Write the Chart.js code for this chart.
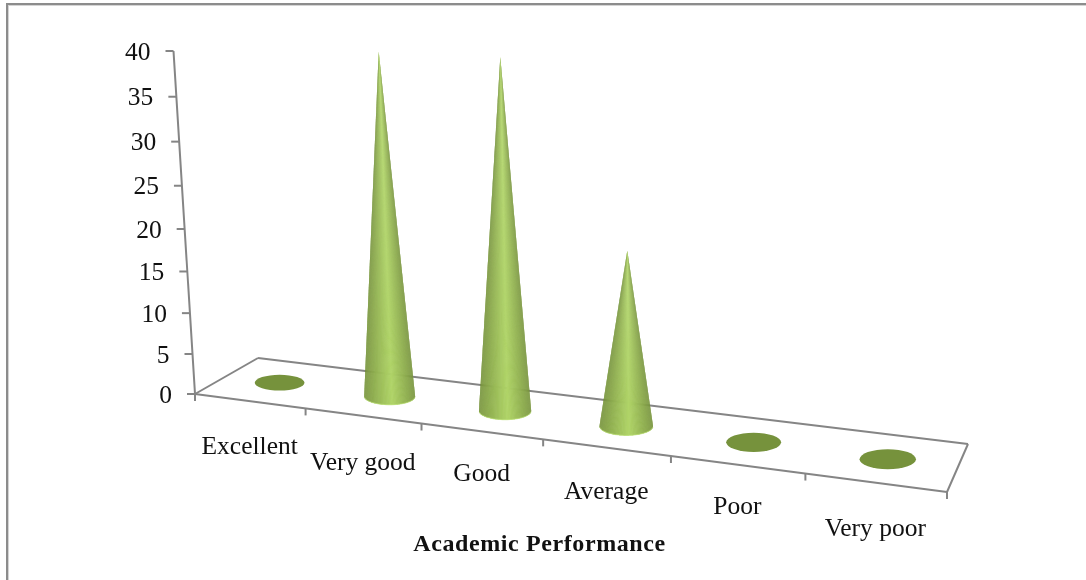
<!DOCTYPE html>
<html>
<head>
<meta charset="utf-8">
<title>Academic Performance</title>
<script src="https://cdn.jsdelivr.net/npm/chart.js@4"></script>
<style>
    html, body { margin: 0; padding: 0; background: #fff; overflow: hidden; }
    #wrap { position: absolute; left: 0; top: 0; width: 1086px; height: 580px; }
    #frame { position: absolute; left: 6px; top: 3px; right: 0; bottom: 0; border-left: 2px solid #8c8c8c; border-top: 2px solid #8c8c8c; box-shadow: inset 1px 1px 0 #d4d4d4; }
    canvas { position: absolute; left: 0; top: 0; }
</style>
</head>
<body>
<div id="wrap">
    <canvas id="coneChart" width="1086" height="580"></canvas>
    <div id="frame"></div>
</div>
<script>
var categories = ['Excellent', 'Very good', 'Good', 'Average', 'Poor', 'Very poor'];
var performance = [0, 38, 37.5, 18.5, 0, 0];
var axisTitle = 'Academic Performance';
var yMax = 40;
var yStep = 5;

// the floor as Excel left it: corners in page pixels
var FRONT_L = { x: 195, y: 394 };
var FRONT_R = { x: 947, y: 492 };
var BACK_L = { x: 258, y: 358 };
var BACK_R = { x: 968, y: 444 };
var PERSPECTIVE = 1.16;
var LABEL_DROP = [46, 47, 43, 45, 43, 47];

var AXIS_COLOR = '#858585';
var FLAT_COLOR = '#76923c';
var FONT_FAMILY = '"Liberation Serif", "Times New Roman", serif';

function lerp(a, b, f) { return a + (b - a) * f; }

function alongAxis(area, px) {
    var t = (px - area.left) / (area.right - area.left);
    return t / (t + PERSPECTIVE * (1 - t));
}

// scale pixel -> page pixel on the skewed floor, raised by the value height
function project(area, px, py, depth) {
    var u = alongAxis(area, px);
    var x = lerp(lerp(FRONT_L.x, FRONT_R.x, u), lerp(BACK_L.x, BACK_R.x, u), depth);
    var y = lerp(lerp(FRONT_L.y, FRONT_R.y, u), lerp(BACK_L.y, BACK_R.y, u), depth);
    var full = area.bottom - area.top;
    var h = (area.bottom - py) / full;
    var rise = full * (0.924 * h + 0.076 * h * h) * (1 + 0.28 * u);
    return { x: x + (x - 590) / 6300 * rise, y: y - rise };
}

function line(ctx, a, b) {
    ctx.beginPath();
    ctx.moveTo(a.x, a.y);
    ctx.lineTo(b.x, b.y);
    ctx.stroke();
}

function coneColor(p) {
    // p runs 0..1 left to right over the base
    var dark = [118, 146, 60];
    var light = [176, 212, 104];
    var f = p < 0.55 ? p / 0.55 : (1 - p) / 0.45;
    f = Math.pow(f, 0.8);
    return 'rgb(' + Math.round(lerp(dark[0], light[0], f)) + ',' +
        Math.round(lerp(dark[1], light[1], f)) + ',' +
        Math.round(lerp(dark[2], light[2], f)) + ')';
}

function drawCone(ctx, base, apex, rx, ry) {
    var steps = 140;
    var start = -0.05;
    var end = Math.PI + 0.05;
    for (var i = 0; i < steps; i++) {
        var a = lerp(start, end, i / steps);
        var b = lerp(start, end, Math.min(1, (i + 2) / steps));
        // cos runs right to left with the angle, so flip it
        ctx.fillStyle = coneColor((1 + Math.cos(lerp(a, b, 0.25))) / 2);
        ctx.beginPath();
        ctx.moveTo(apex.x, apex.y);
        ctx.lineTo(base.x + rx * Math.cos(a), base.y + ry * Math.sin(a));
        ctx.lineTo(base.x + rx * Math.cos((a + b) / 2), base.y + ry * Math.sin((a + b) / 2));
        ctx.lineTo(base.x + rx * Math.cos(b), base.y + ry * Math.sin(b));
        ctx.closePath();
        ctx.fill();
    }
    ctx.strokeStyle = 'rgba(190, 226, 120, 0.7)';
    ctx.lineWidth = 1;
    ctx.beginPath();
    ctx.ellipse(base.x, base.y, rx, ry, 0, 0.1, Math.PI - 0.1);
    ctx.stroke();
}

var skewedAxes = {
    id: 'skewedAxes',
    beforeDatasetsDraw: function (chart) {
        var ctx = chart.ctx;
        var area = chart.chartArea;
        var xScale = chart.scales.x;
        var yScale = chart.scales.y;
        ctx.save();
        ctx.strokeStyle = AXIS_COLOR;
        ctx.lineWidth = 2;

        // floor outline
        var zero = yScale.getPixelForValue(0);
        var fl = project(area, area.left, zero, 0);
        var fr = project(area, area.right, zero, 0);
        var bl = project(area, area.left, zero, 1);
        var br = project(area, area.right, zero, 1);
        line(ctx, fl, fr);
        line(ctx, fl, bl);
        line(ctx, bl, br);
        line(ctx, br, fr);

        // value axis, leaning with the view
        var top = project(area, area.left, yScale.getPixelForValue(yMax), 0);
        line(ctx, fl, top);

        ctx.fillStyle = '#111';
        ctx.font = '25.5px ' + FONT_FAMILY;
        ctx.textAlign = 'right';
        ctx.textBaseline = 'middle';
        yScale.ticks.forEach(function (tick) {
            var p = project(area, area.left, yScale.getPixelForValue(tick.value), 0);
            line(ctx, { x: p.x - 8, y: p.y }, p);
            ctx.fillText(String(tick.value), p.x - 23, p.y + 2);
        });

        // category ticks along the front edge
        var w = (area.right - area.left) / categories.length;
        for (var i = 0; i <= categories.length; i++) {
            var q = project(area, area.left + w * i, zero, 0);
            line(ctx, q, { x: q.x, y: q.y + 7 });
        }

        ctx.textAlign = 'center';
        categories.forEach(function (name, i) {
            var c = project(area, xScale.getPixelForValue(i), zero, 0);
            ctx.fillText(name, c.x, c.y + LABEL_DROP[i]);
        });

        ctx.font = 'bold 24px ' + FONT_FAMILY;
        ctx.letterSpacing = '0.6px';
        ctx.textBaseline = 'alphabetic';
        ctx.fillText(axisTitle, 539.5, 551);
        ctx.restore();
    },
    afterDatasetsDraw: function (chart) {
        var ctx = chart.ctx;
        var area = chart.chartArea;
        var meta = chart.getDatasetMeta(0);
        ctx.save();
        meta.data.forEach(function (bar) {
            var base = project(area, bar.x, bar.base, 0.5);
            var u = alongAxis(area, bar.x);
            var rx = bar.width / 2 * (0.98 + 0.16 * u);
            var ry = 7.7 + 2.6 * u;
            if (bar.y >= bar.base) {
                ctx.fillStyle = FLAT_COLOR;
                ctx.beginPath();
                ctx.ellipse(base.x, base.y, rx, ry, 0, 0, Math.PI * 2);
                ctx.fill();
            } else {
                drawCone(ctx, base, project(area, bar.x, bar.y, 0.5), rx, ry);
            }
        });
        ctx.restore();
    }
};

var coneChart = new Chart(document.getElementById('coneChart').getContext('2d'), {
    type: 'bar',
    data: {
        labels: categories,
        datasets: [{
            label: axisTitle,
            data: performance,
            backgroundColor: 'rgba(0,0,0,0)',
            borderWidth: 0,
            barPercentage: 0.4,
            categoryPercentage: 1
        }]
    },
    options: {
        responsive: false,
        animation: false,
        layout: { padding: { left: 195, right: 139, top: 51, bottom: 186 } },
        plugins: {
            legend: { display: false },
            tooltip: { enabled: false }
        },
        scales: {
            x: { display: false },
            y: { display: false, min: 0, max: yMax, ticks: { stepSize: yStep } }
        }
    },
    plugins: [skewedAxes]
});
</script>
</body>
</html>
